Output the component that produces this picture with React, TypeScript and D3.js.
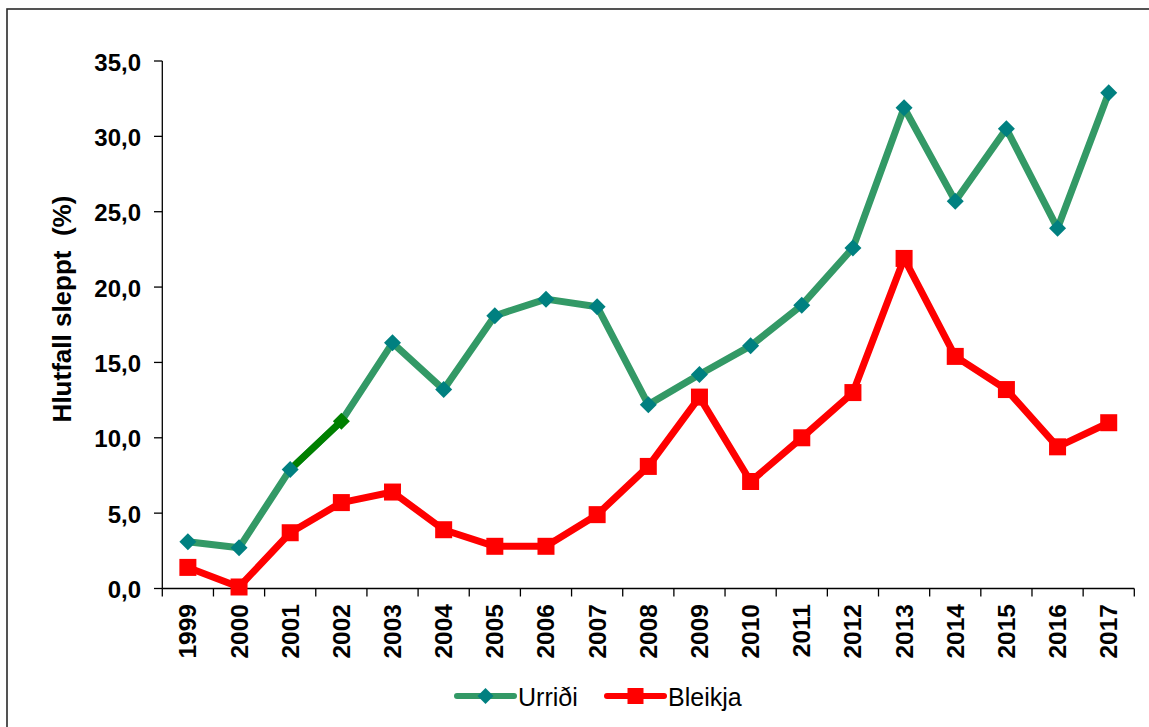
import React from "react";
import * as d3 from "d3";

const years = ["1999","2000","2001","2002","2003","2004","2005","2006","2007","2008","2009","2010","2011","2012","2013","2014","2015","2016","2017"];
const urridi = [3.1, 2.7, 7.9, 11.1, 16.3, 13.2, 18.1, 19.2, 18.7, 12.2, 14.2, 16.1, 18.8, 22.6, 31.9, 25.7, 30.5, 23.9, 32.9];
const bleikja = [1.4, 0.1, 3.7, 5.7, 6.4, 3.9, 2.8, 2.8, 4.9, 8.1, 12.7, 7.1, 10.0, 13.0, 21.9, 15.4, 13.2, 9.4, 11.0];
const yTicks = [0, 5, 10, 15, 20, 25, 30, 35];
const yLabel = "Hlutfall sleppt\u00a0 (%)";
const seriesNames = ["Urriði", "Bleikja"];

const W = 1149, H = 727;
const FONT = "'Liberation Sans', Arial, sans-serif";

export default function App() {
  const x = d3.scaleBand<string>().domain(years).range([162.3, 1134.3]);
  const y = d3.scaleLinear().domain([0, 35]).range([588.5, 61]);
  const cx = (yr: string) => (x(yr) as number) + x.bandwidth() / 2;
  const line = d3.line<number>().x((_, i) => cx(years[i])).y(d => y(d));
  const greenColor = "#339966";
  const teal = "#008080";
  const dark = "#008000";
  const red = "#ff0000";
  const boundaries = years.map(yr => x(yr) as number).concat([x.range()[1]]);
  const diamond = (px: number, py: number, r: number) =>
    `M${px},${py - r}L${px + r},${py}L${px},${py + r}L${px - r},${py}Z`;

  return (
    <div style={{ position: "absolute", left: 0, top: 0 }}>
      <svg width={W} height={H} style={{ display: "block", background: "#fff" }}>
        <rect x={7} y={9} width={W + 20} height={H + 20} fill="#fff" stroke="#2a2a2a" strokeWidth={1.6} />
        {/* Y axis */}
        <line x1={162.3} x2={162.3} y1={y(35)} y2={y(0)} stroke="#000" strokeWidth={1.3} />
        {yTicks.map(t => (
          <g key={t}>
            <line x1={154} x2={162.3} y1={y(t)} y2={y(t)} stroke="#000" strokeWidth={1.3} />
            <text x={141} y={y(t) + 1} textAnchor="end" dominantBaseline="central" fontFamily={FONT} fontWeight="bold" fontSize={24} fill="#000">
              {d3.format(".1f")(t).replace(".", ",")}
            </text>
          </g>
        ))}
        <text transform={`translate(62,${309}) rotate(-90)`} textAnchor="middle" dominantBaseline="central" fontFamily={FONT} fontWeight="bold" fontSize={26} fill="#000">
          {yLabel}
        </text>
        {/* X axis */}
        <line x1={162.3} x2={1134.3} y1={y(0)} y2={y(0)} stroke="#000" strokeWidth={1.3} />
        {boundaries.map((b, i) => (
          <line key={i} x1={b} x2={b} y1={y(0)} y2={y(0) + 8} stroke="#000" strokeWidth={1.3} />
        ))}
        {years.map(yr => (
          <text key={yr} transform={`translate(${cx(yr)},604) rotate(-90)`} textAnchor="end" dominantBaseline="central" fontFamily={FONT} fontWeight="bold" fontSize={24.5} fill="#000">
            {yr}
          </text>
        ))}
        {/* Urriði line */}
        <path d={line(urridi) || ""} fill="none" stroke={greenColor} strokeWidth={7} strokeLinejoin="round" />
        <line x1={cx(years[2])} y1={y(urridi[2])} x2={cx(years[3])} y2={y(urridi[3])} stroke={dark} strokeWidth={7} />
        {urridi.map((v, i) => (
          <path key={i} d={diamond(cx(years[i]), y(v), 8.5)} fill={i === 3 ? dark : teal} />
        ))}
        {/* Bleikja line */}
        <path d={line(bleikja) || ""} fill="none" stroke={red} strokeWidth={7} strokeLinejoin="round" />
        {bleikja.map((v, i) => (
          <rect key={i} x={cx(years[i]) - 8.5} y={y(v) - 8.5} width={17} height={17} fill={red} />
        ))}
        {/* Legend */}
        <g>
          <line x1={457} x2={514} y1={696} y2={696} stroke={greenColor} strokeWidth={6} strokeLinecap="round" />
          <path d={diamond(485.5, 696, 8)} fill={teal} />
          <text x={518} y={697} dominantBaseline="central" fontFamily={FONT} fontSize={25} fill="#000">{seriesNames[0]}</text>
          <line x1={607} x2={664} y1={696} y2={696} stroke={red} strokeWidth={6} strokeLinecap="round" />
          <rect x={627.5} y={688} width={16} height={16} fill={red} />
          <text x={668} y={697} dominantBaseline="central" fontFamily={FONT} fontSize={25} fill="#000">{seriesNames[1]}</text>
        </g>
      </svg>
    </div>
  );
}
